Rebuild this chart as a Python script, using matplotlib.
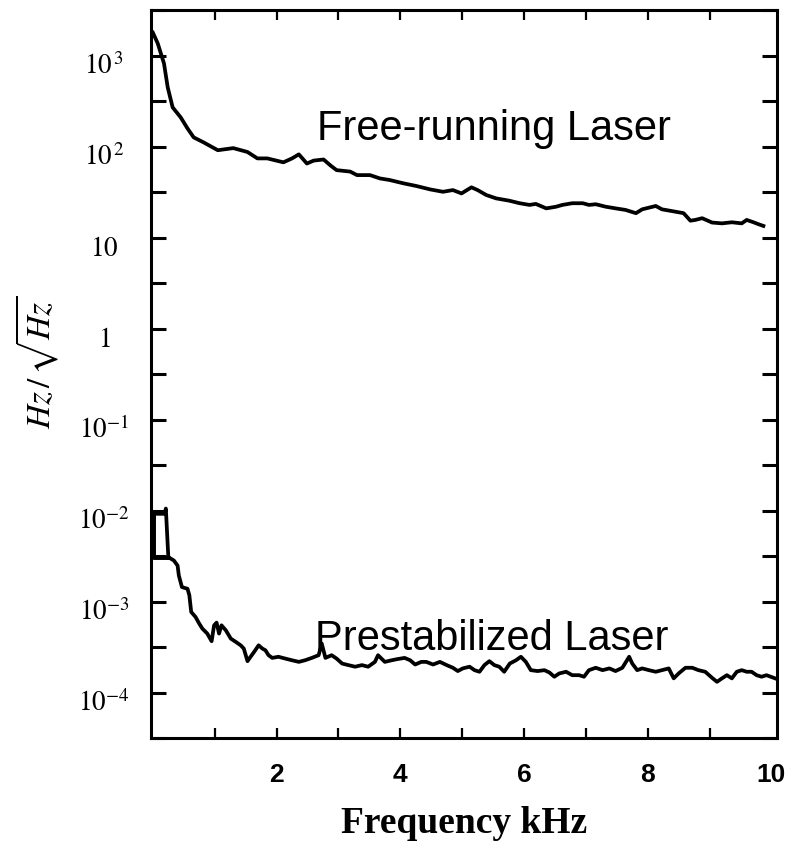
import matplotlib
matplotlib.use('Agg')
import matplotlib.pyplot as plt
from matplotlib.transforms import blended_transform_factory, ScaledTranslation

# ---------------- data ----------------
free_khz = [0.00, 0.08, 0.18, 0.24, 0.32, 0.45, 0.56, 0.66, 0.82, 1.05,
            1.30, 1.53, 1.69, 1.85, 2.11, 2.25, 2.36, 2.49, 2.60, 2.76,
            2.87, 2.97, 3.19, 3.30, 3.51, 3.67, 3.83, 4.05, 4.26, 4.48,
            4.69, 4.85, 4.99, 5.15, 5.25, 5.39, 5.55, 5.76, 5.93, 6.09,
            6.19, 6.36, 6.52, 6.62, 6.78, 6.95, 7.05, 7.16, 7.32, 7.48,
            7.64, 7.81, 7.91, 8.13, 8.23, 8.45, 8.58, 8.69, 8.77, 8.88,
            9.04, 9.20, 9.36, 9.52, 9.60, 9.71, 9.79, 9.87]
free_amp = [1785, 1352, 817, 447, 269, 209, 158, 126, 111, 91,
            96, 87, 74, 74, 67, 74, 82, 65, 70, 72,
            62, 55, 53, 48.5, 48.5, 44.6, 42.8, 39.4, 36.8, 33.8,
            31.8, 33.2, 30.5, 35.6, 33.2, 29.3, 26.9, 25.4, 23.8, 22.8,
            23.4, 20.9, 21.8, 22.8, 23.8, 23.8, 22.8, 23.2, 21.8, 20.9,
            20.1, 18.5, 20.4, 22.2, 20.4, 19.2, 18.5, 15.3, 15.6, 16.3,
            14.6, 14.3, 14.7, 14.3, 15.6, 14.7, 14.0, 13.4]

pre_khz = [0.25, 0.02, 0.02, 0.19, 0.21, 0.25, 0.34, 0.40, 0.42, 0.47,
           0.56, 0.59, 0.62, 0.69, 0.75, 0.80, 0.88, 0.95, 0.99, 1.03,
           1.07, 1.11, 1.18, 1.26, 1.34, 1.42, 1.47, 1.53, 1.58, 1.63,
           1.71, 1.77, 1.82, 1.87, 1.93, 2.03, 2.14, 2.25, 2.36, 2.46,
           2.57, 2.68, 2.73, 2.79, 2.89, 2.97, 3.06, 3.16, 3.27, 3.38,
           3.48, 3.59, 3.64, 3.75, 3.86, 3.94, 4.07, 4.16, 4.24, 4.34,
           4.42, 4.53, 4.64, 4.75, 4.85, 4.93, 5.01, 5.12, 5.20, 5.28,
           5.36, 5.44, 5.52, 5.60, 5.68, 5.77, 5.87, 5.95, 6.03, 6.11,
           6.22, 6.33, 6.41, 6.49, 6.57, 6.68, 6.78, 6.89, 6.97, 7.05,
           7.16, 7.27, 7.38, 7.48, 7.59, 7.70, 7.75, 7.83, 7.91, 8.02,
           8.13, 8.23, 8.34, 8.42, 8.50, 8.61, 8.72, 8.82, 8.93, 9.04,
           9.12, 9.20, 9.28, 9.36, 9.44, 9.52, 9.60, 9.68, 9.76, 9.84,
           9.92, 10.06]
pre_amp = [3.0e-3, 3.0e-3, 9.2e-3, 9.2e-3, 1.05e-2, 3.07e-3, 2.82e-3, 2.48e-3, 1.93e-3, 1.44e-3,
           1.38e-3, 1.17e-3, 7.67e-4, 6.76e-4, 5.71e-4, 5.04e-4, 4.44e-4, 3.66e-4, 5.47e-4, 5.86e-4,
           4.44e-4, 5.47e-4, 4.82e-4, 3.91e-4, 3.60e-4, 3.30e-4, 3.04e-4, 2.21e-4, 2.47e-4, 2.75e-4,
           3.30e-4, 3.04e-4, 2.91e-4, 2.57e-4, 2.40e-4, 2.47e-4, 2.36e-4, 2.26e-4, 2.17e-4, 2.26e-4,
           2.40e-4, 2.57e-4, 3.45e-4, 2.40e-4, 2.57e-4, 2.36e-4, 2.08e-4, 2.00e-4, 1.92e-4, 2.00e-4,
           1.92e-4, 2.17e-4, 2.57e-4, 2.17e-4, 2.26e-4, 2.32e-4, 2.40e-4, 2.26e-4, 2.03e-4, 2.17e-4,
           2.17e-4, 2.03e-4, 2.17e-4, 2.00e-4, 1.87e-4, 1.72e-4, 1.84e-4, 1.92e-4, 1.76e-4, 1.69e-4,
           2.00e-4, 2.21e-4, 2.00e-4, 1.92e-4, 1.69e-4, 2.08e-4, 2.26e-4, 2.47e-4, 2.17e-4, 1.76e-4,
           1.72e-4, 1.76e-4, 1.66e-4, 1.49e-4, 1.62e-4, 1.69e-4, 1.55e-4, 1.55e-4, 1.49e-4, 1.76e-4,
           1.87e-4, 1.76e-4, 1.84e-4, 1.72e-4, 1.87e-4, 2.47e-4, 2.08e-4, 1.76e-4, 1.84e-4, 1.76e-4,
           1.69e-4, 1.76e-4, 1.84e-4, 1.43e-4, 1.62e-4, 1.87e-4, 1.87e-4, 1.76e-4, 1.69e-4, 1.45e-4,
           1.31e-4, 1.43e-4, 1.55e-4, 1.43e-4, 1.69e-4, 1.76e-4, 1.69e-4, 1.69e-4, 1.55e-4, 1.49e-4,
           1.55e-4, 1.43e-4]

x_tick_values = [2, 4, 6, 8, 10]
x_tick_labels = ['2', '4', '6', '8', '10']
x_minor_values = [1, 3, 5, 7, 9]
y_tick_values = [1e3, 1e2, 1e1, 1e0, 1e-1, 1e-2, 1e-3, 1e-4]
y_tick_labels = [r'$10^{\,3}$', r'$10^{\,2}$', r'$10$', r'$1$',
                 r'$10^{-1}$', r'$10^{-2}$', r'$10^{-3}$', r'$10^{-4}$']
y_minor_values = [10 ** (k + 0.5) for k in range(-5, 4)]

assert len(free_khz) == len(free_amp)
assert len(pre_khz) == len(pre_amp)

# ---------------- figure ----------------
plt.rcParams['mathtext.fontset'] = 'stix'
W, H = 789, 841
fig = plt.figure(figsize=(W / 100, H / 100), dpi=100)
ax = fig.add_axes([151 / W, 1 - 738 / H, 626 / W, 728 / H])

ax.plot(free_khz, free_amp, color='black', lw=2.7, solid_joinstyle='round')
ax.plot(pre_khz, pre_amp, color='black', lw=2.7, solid_joinstyle='round')

ax.set_yscale('log')
ax.set_xlim(-0.03, 10.09)
ax.set_ylim(10 ** -4.5, 10 ** 3.5)

for s in ax.spines.values():
    s.set_linewidth(2.2)

# x ticks
ax.set_xticks(x_tick_values, labels=x_tick_labels,
              fontfamily='Liberation Sans', fontweight='bold', fontsize=19)
ax.set_xticks(x_minor_values, minor=True)
ax.tick_params(axis='x', which='both', direction='in', length=7, width=1.6,
               top=True, bottom=True, pad=18)
last = ax.xaxis.get_major_ticks()[-1]
last.tick1line.set_visible(False)
last.tick2line.set_visible(False)

# y ticks
ax.set_yticks(y_tick_values)
ax.set_yticklabels([])
ax.set_yticks(y_minor_values, minor=True)
ax.set_yticklabels([], minor=True)
ax.tick_params(axis='y', which='both', direction='in', length=11, width=2.2,
               left=True, right=True)

trans = blended_transform_factory(ax.transAxes, ax.transData) + \
    ScaledTranslation(0, -8 / 72, fig.dpi_scale_trans)
for v, lab in zip(y_tick_values, y_tick_labels):
    ax.text(-47 / 626, v, lab, transform=trans, ha='center', va='center',
            fontsize=19.5)

# labels
fig.text(464 / W, 1 - 833 / H, 'Frequency kHz', ha='center', va='baseline',
         family='Liberation Serif', weight='bold', fontsize=27)
fig.text(37 / W, 1 - 362 / H, r'$Hz\,/\,\sqrt{Hz}$', rotation=90,
         ha='center', va='center', fontsize=24)

# annotations
fig.text(317 / W, 1 - 140 / H, 'Free-running Laser', family='Liberation Sans',
         fontsize=30, va='baseline', ha='left')
fig.text(315 / W, 1 - 650 / H, 'Prestabilized Laser', family='Liberation Sans',
         fontsize=30, va='baseline', ha='left')

fig.savefig('out.png', dpi=100)
